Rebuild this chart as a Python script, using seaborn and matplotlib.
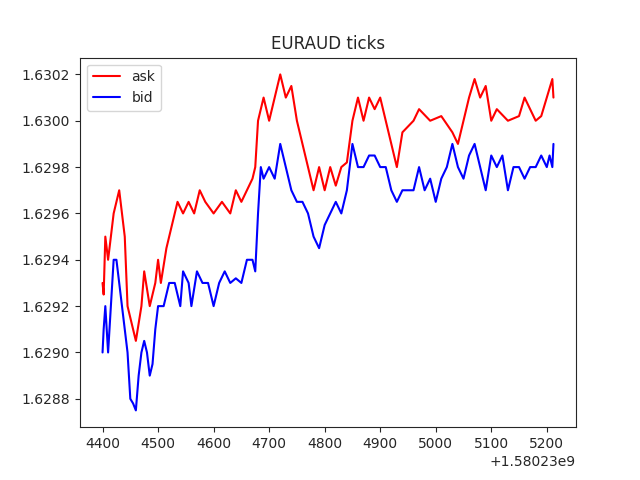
import numpy as np
import pandas as pd
import matplotlib
matplotlib.use("Agg")
import matplotlib.pyplot as plt
import seaborn as sns

base = 1580230000
ask_t = [4400, 4402, 4405, 4410, 4420, 4430, 4440, 4445, 4455, 4460, 4470, 4475, 4485, 4495, 4500,
         4505, 4515, 4525, 4535, 4545, 4555, 4565, 4575, 4585, 4600, 4615, 4630, 4640, 4650, 4660,
         4670, 4675, 4680, 4690, 4700, 4710, 4720, 4730, 4740, 4750, 4760, 4770, 4780, 4790, 4800,
         4810, 4820, 4830, 4840, 4850, 4860, 4870, 4880, 4890, 4900, 4910, 4920, 4930, 4940, 4960,
         4970, 4990, 5010, 5030, 5040, 5050, 5060, 5070, 5080, 5090, 5100, 5110, 5130, 5150, 5160,
         5180, 5190, 5200, 5210, 5212]
ask_v = [1.62930, 1.62925, 1.62950, 1.62940, 1.62960, 1.62970, 1.62950, 1.62920, 1.62910, 1.62905,
         1.62920, 1.62935, 1.62920, 1.62930, 1.62940, 1.62930, 1.62945, 1.62955, 1.62965, 1.62960,
         1.62965, 1.62960, 1.62970, 1.62965, 1.62960, 1.62965, 1.62960, 1.62970, 1.62965, 1.62970,
         1.62975, 1.62980, 1.63000, 1.63010, 1.63000, 1.63010, 1.63020, 1.63010, 1.63015, 1.63000,
         1.62990, 1.62980, 1.62970, 1.62980, 1.62970, 1.62980, 1.62972, 1.62980, 1.62982, 1.63000,
         1.63010, 1.63000, 1.63010, 1.63005, 1.63010, 1.63000, 1.62990, 1.62980, 1.62995, 1.63000,
         1.63005, 1.63000, 1.63002, 1.62995, 1.62990, 1.63000, 1.63010, 1.63018, 1.63010, 1.63015,
         1.63000, 1.63005, 1.63000, 1.63002, 1.63010, 1.63000, 1.63002, 1.63010, 1.63018, 1.63010]
bid_t = [4400, 4402, 4405, 4410, 4415, 4420, 4425, 4430, 4435, 4440, 4445, 4450, 4455, 4460, 4465,
         4470, 4475, 4480, 4485, 4490, 4495, 4500, 4510, 4520, 4530, 4540, 4545, 4555, 4560, 4570,
         4580, 4590, 4600, 4610, 4620, 4630, 4640, 4650, 4660, 4670, 4675, 4680, 4685, 4690, 4700,
         4710, 4720, 4730, 4740, 4750, 4760, 4770, 4780, 4790, 4800, 4810, 4820, 4830, 4840, 4850,
         4860, 4870, 4880, 4890, 4900, 4910, 4920, 4930, 4940, 4950, 4960, 4970, 4980, 4990, 5000,
         5010, 5020, 5030, 5040, 5050, 5060, 5070, 5080, 5090, 5100, 5110, 5120, 5130, 5140, 5150,
         5160, 5170, 5180, 5190, 5200, 5205, 5210, 5212]
bid_v = [1.62900, 1.62910, 1.62920, 1.62900, 1.62920, 1.62940, 1.62940, 1.62930, 1.62920, 1.62910,
         1.62900, 1.62880, 1.62878, 1.62875, 1.62890, 1.62900, 1.62905, 1.62900, 1.62890, 1.62895,
         1.62910, 1.62920, 1.62920, 1.62930, 1.62930, 1.62920, 1.62935, 1.62930, 1.62920, 1.62935,
         1.62930, 1.62930, 1.62920, 1.62930, 1.62935, 1.62930, 1.62932, 1.62930, 1.62940, 1.62940,
         1.62935, 1.62960, 1.62980, 1.62975, 1.62980, 1.62975, 1.62990, 1.62980, 1.62970, 1.62965,
         1.62965, 1.62960, 1.62950, 1.62945, 1.62955, 1.62960, 1.62965, 1.62960, 1.62970, 1.62990,
         1.62980, 1.62980, 1.62985, 1.62985, 1.62980, 1.62980, 1.62970, 1.62965, 1.62970, 1.62970,
         1.62970, 1.62980, 1.62970, 1.62975, 1.62965, 1.62975, 1.62980, 1.62990, 1.62980, 1.62975,
         1.62985, 1.62990, 1.62980, 1.62970, 1.62985, 1.62980, 1.62985, 1.62970, 1.62980, 1.62980,
         1.62975, 1.62980, 1.62980, 1.62985, 1.62980, 1.62985, 1.62980, 1.62990]

sns.set_style("ticks")
plt.rcParams['axes.spines.top'] = True
plt.rcParams['axes.spines.right'] = True
fig, ax = plt.subplots(figsize=(6.4, 4.8), dpi=100)
sns.lineplot(x=np.array(ask_t) + base, y=ask_v, color="red", label="ask", ax=ax)
sns.lineplot(x=np.array(bid_t) + base, y=bid_v, color="blue", label="bid", ax=ax)
ax.set_title("EURAUD ticks")
ax.legend(loc="upper left")
ax.set_yticks([1.6288, 1.6290, 1.6292, 1.6294, 1.6296, 1.6298, 1.6300, 1.6302])
fig.savefig("out.png")
